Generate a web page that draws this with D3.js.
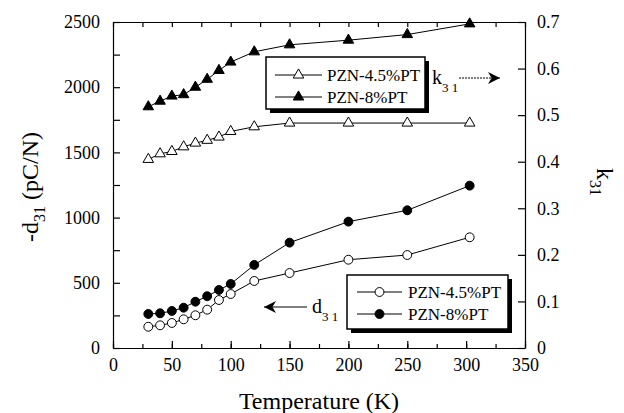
<!DOCTYPE html>
<meta charset="utf-8">
<style>
body { margin: 0; background: #fff; }
text { font-family: "Liberation Serif", "Times New Roman", serif; fill: #000; }
.axis path, .axis line { stroke: #000; stroke-width: 1.2px; }
.axis text { font-size: 18px; font-family: "Liberation Serif", serif; }
.series path.line { fill: none; stroke: #000; stroke-width: 1px; }
</style>
<svg></svg>
<script src="https://d3js.org/d3.v7.min.js"></script>
<script>

// temperatures (K)
var temps = [30, 40, 50, 60, 70, 80, 90, 100, 120, 150, 200, 250, 303];
// -d31 (pC/N), left axis
var d31_45 = [163, 174, 192, 220, 251, 294, 368, 414, 514, 575, 677, 713, 849];
var d31_8 = [261, 266, 284, 309, 355, 397, 445, 491, 637, 808, 969, 1056, 1245];
// k31, right axis
var k31_45 = [0.405, 0.417, 0.422, 0.432, 0.440, 0.446, 0.453, 0.465, 0.475, 0.483, 0.483, 0.483, 0.483];
var k31_8 = [0.518, 0.530, 0.541, 0.544, 0.560, 0.577, 0.596, 0.614, 0.636, 0.651, 0.661, 0.673, 0.696];

var xTicks = [0, 50, 100, 150, 200, 250, 300, 350];
var yTicks = [0, 500, 1000, 1500, 2000, 2500];
var kTicks = [0, 0.1, 0.2, 0.3, 0.4, 0.5, 0.6, 0.7];

var svg = d3.select("svg").attr("width", 624).attr("height", 413);

var mLeft = 113, mRight = 525, mTop = 22, mBottom = 348;

var x = d3.scaleLinear().domain([0, 350]).range([mLeft, mRight]);
var y = d3.scaleLinear().domain([0, 2500]).range([mBottom, mTop]);
var yk = d3.scaleLinear().domain([0, 0.7]).range([mBottom, mTop]);

/* axes with inward ticks */
var minorX = d3.range(0, 351, 25);
var minorY = d3.range(0, 2501, 250);

svg.append("g").attr("class", "axis")
  .attr("transform", "translate(0," + mBottom + ")")
  .call(d3.axisBottom(x).tickValues(minorX).tickSize(-4).tickFormat(""))
  .call(function(g) { g.select(".domain").remove(); });
svg.append("g").attr("class", "axis")
  .attr("transform", "translate(0," + mBottom + ")")
  .call(d3.axisBottom(x).tickValues(xTicks).tickSize(-7).tickSizeOuter(0).tickPadding(10).tickFormat(d3.format("d")));

svg.append("g").attr("class", "axis")
  .attr("transform", "translate(0," + mTop + ")")
  .call(d3.axisTop(x).tickValues(minorX).tickSize(-5).tickSizeOuter(0).tickFormat(""));

svg.append("g").attr("class", "axis")
  .attr("transform", "translate(" + mLeft + ",0)")
  .call(d3.axisLeft(y).tickValues(minorY).tickSize(-7).tickSizeOuter(0).tickPadding(13)
    .tickFormat(function(d) { return yTicks.indexOf(d) >= 0 ? d : ""; }));

svg.append("g").attr("class", "axis")
  .attr("transform", "translate(" + mRight + ",0)")
  .call(d3.axisRight(yk).tickValues(kTicks).tickSize(-7).tickSizeOuter(0).tickPadding(12)
    .tickFormat(function(d) { return d === 0 ? "0" : d3.format(".1f")(d); }));

/* series */
var series = [
  { vals: k31_45, scale: yk, sym: d3.symbolTriangle, size: 48, fill: "#fff" },
  { vals: k31_8, scale: yk, sym: d3.symbolTriangle, size: 48, fill: "#000" },
  { vals: d31_45, scale: y, sym: d3.symbolCircle, size: 62, fill: "#fff" },
  { vals: d31_8, scale: y, sym: d3.symbolCircle, size: 62, fill: "#000" }
];

series.forEach(function(s) {
  var pts = temps.map(function(t, i) { return [x(t), s.scale(s.vals[i])]; });
  var g = svg.append("g").attr("class", "series");
  g.append("path").attr("class", "line").attr("d", d3.line()(pts));
  g.selectAll("path.pt").data(pts).enter().append("path")
    .attr("class", "pt")
    .attr("transform", function(p) { return "translate(" + p[0] + "," + p[1] + ")"; })
    .attr("d", d3.symbol().type(s.sym).size(s.size))
    .attr("fill", s.fill).attr("stroke", "#000").attr("stroke-width", 1);
});

/* legends */
function legend(bx, by, w, h, rows, sym, size, lx1, lx2, tx) {
  svg.append("rect").attr("x", bx + 4).attr("y", by + 4).attr("width", w).attr("height", h).attr("fill", "#000");
  svg.append("rect").attr("x", bx).attr("y", by).attr("width", w).attr("height", h)
    .attr("fill", "#fff").attr("stroke", "#000").attr("stroke-width", 1.5);
  rows.forEach(function(r) {
    svg.append("line").attr("x1", lx1).attr("x2", lx2).attr("y1", r.y).attr("y2", r.y)
      .attr("stroke", "#000").attr("stroke-width", 1);
    svg.append("path").attr("transform", "translate(" + ((lx1 + lx2) / 2) + "," + r.y + ")")
      .attr("d", d3.symbol().type(sym).size(size)).attr("fill", r.fill).attr("stroke", "#000");
    svg.append("text").attr("x", tx).attr("y", r.y).attr("dy", "0.35em")
      .style("font-size", "17px").text(r.label);
  });
}

legend(266, 57, 159, 52,
  [{ y: 75, fill: "#fff", label: "PZN-4.5%PT" }, { y: 97, fill: "#000", label: "PZN-8%PT" }],
  d3.symbolTriangle, 48, 275, 322, 327);
legend(347, 275, 161, 54,
  [{ y: 292, fill: "#fff", label: "PZN-4.5%PT" }, { y: 314, fill: "#000", label: "PZN-8%PT" }],
  d3.symbolCircle, 62, 357, 402, 408);

/* arrows */
svg.append("defs").append("marker")
  .attr("id", "head").attr("viewBox", "0 -5 10 10")
  .attr("refX", 10).attr("refY", 0)
  .attr("markerWidth", 12).attr("markerHeight", 12)
  .attr("markerUnits", "userSpaceOnUse").attr("orient", "auto")
  .append("path").attr("d", "M0,-5L10,0L0,5L3,0Z").attr("fill", "#000");

svg.append("line").attr("x1", 459).attr("x2", 500).attr("y1", 78).attr("y2", 78)
  .attr("stroke", "#000").attr("stroke-dasharray", "2,1").attr("marker-end", "url(#head)");
svg.append("text").attr("x", 432).attr("y", 84).style("font-size", "20px")
  .text("k").append("tspan").attr("dy", 8).style("font-size", "13px").text("3 1");

svg.append("line").attr("x1", 307).attr("x2", 264).attr("y1", 307).attr("y2", 307)
  .attr("stroke", "#000").attr("marker-end", "url(#head)");
svg.append("text").attr("x", 312).attr("y", 313).style("font-size", "20px")
  .text("d").append("tspan").attr("dy", 8).style("font-size", "13px").text("3 1");

/* axis titles */
svg.append("text").attr("x", (mLeft + mRight) / 2).attr("y", 409).attr("text-anchor", "middle")
  .style("font-size", "24px").text("Temperature (K)");

var lt = svg.append("text").attr("transform", "translate(38,187) rotate(-90)")
  .attr("text-anchor", "middle").style("font-size", "24px");
lt.append("tspan").text("-d");
lt.append("tspan").attr("dy", 7).style("font-size", "16px").text("31");
lt.append("tspan").attr("dy", -7).text(" (pC/N)");

var rt = svg.append("text").attr("transform", "translate(597,168) rotate(90)")
  .style("font-size", "24px");
rt.append("tspan").text("k");
rt.append("tspan").attr("dy", 7).style("font-size", "16px").text("31");

</script>
